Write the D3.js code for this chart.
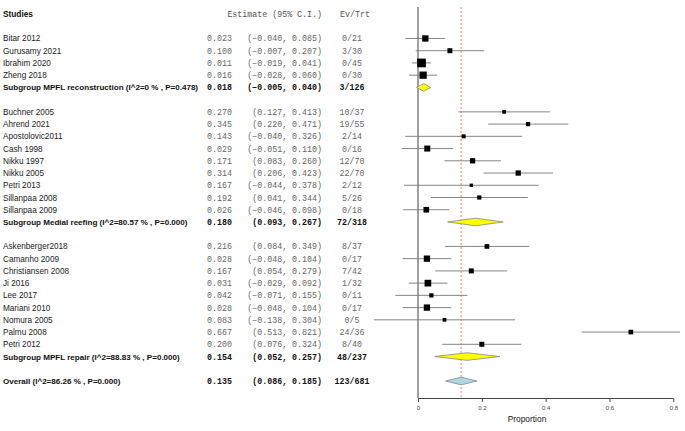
<!DOCTYPE html>
<html><head><meta charset="utf-8">
<script src="https://cdn.jsdelivr.net/npm/d3@7"></script>
<style>body{margin:0;background:#fff}</style>
</head><body><svg id="c" width="685" height="431"></svg>
<script>
// ---- data ----
const studies = ["Bitar 2012","Gurusamy 2021","Ibrahim 2020","Zheng 2018",
 "Buchner 2005","Ahrend 2021","Apostolovic2011","Cash 1998","Nikku 1997","Nikku 2005","Petri 2013","Sillanpaa 2008","Sillanpaa 2009",
 "Askenberger2018","Camanho 2009","Christiansen 2008","Ji 2016","Lee 2017","Mariani 2010","Nomura 2005","Palmu 2008","Petri 2012"];
const groupOf = [0,0,0,0, 1,1,1,1,1,1,1,1,1, 2,2,2,2,2,2,2,2,2];
const estimates = [0.023,0.100,0.011,0.016, 0.270,0.345,0.143,0.029,0.171,0.314,0.167,0.192,0.026, 0.216,0.028,0.167,0.031,0.042,0.028,0.083,0.667,0.200];
const lowers = [-0.040,-0.007,-0.019,-0.028, 0.127,0.220,-0.040,-0.051,0.083,0.206,-0.044,0.041,-0.046, 0.084,-0.048,0.054,-0.029,-0.071,-0.048,-0.138,0.513,0.076];
const uppers = [0.085,0.207,0.041,0.060, 0.413,0.471,0.326,0.110,0.260,0.423,0.378,0.344,0.098, 0.349,0.104,0.279,0.092,0.155,0.104,0.304,0.821,0.324];
const events = [0,3,0,0, 10,19,2,0,12,22,2,5,0, 8,0,7,1,0,0,0,24,8];
const totals = [21,30,45,30, 37,55,14,16,70,70,12,26,18, 37,17,42,32,11,17,5,36,40];
const weights = [40,25,76,53, 14,18,16,36,28,28,11,18,32, 22,40,25,45,18,40,14,22,25];

const subgroupNames = ["MPFL reconstruction","Medial reefing","MPFL repair"];
const subgroupI2 = ["0","80.57","88.83"];
const subgroupP = ["0.478","0.000","0.000"];
const subEst = [0.018,0.180,0.154];
const subLow = [-0.005,0.093,0.052];
const subUp = [0.040,0.267,0.257];
const subEv = [3,72,48];
const subTot = [126,318,237];

const overall = {label:"Overall (I^2=86.26 % , P=0.000)", est:0.135, low:0.086, up:0.185, ev:123, tot:681};
const xTicks = [0,0.2,0.4,0.6,0.8];

// ---- build rows ----
const rows = [];
let r = 2;
subgroupNames.forEach((g,gi)=>{
  studies.forEach((s,i)=>{ if(groupOf[i]===gi){ rows.push({type:"study",row:r++,label:s,est:estimates[i],low:lowers[i],up:uppers[i],ev:events[i],tot:totals[i],w:weights[i]}); } });
  rows.push({type:"sub",row:r++,label:`Subgroup ${g} (I^2=${subgroupI2[gi]} % , P=${subgroupP[gi]})`,est:subEst[gi],low:subLow[gi],up:subUp[gi],ev:subEv[gi],tot:subTot[gi]});
  r++;
});
rows.push({type:"overall",row:r,label:overall.label,est:overall.est,low:overall.low,up:overall.up,ev:overall.ev,tot:overall.tot});

const svg = d3.select("#c");
const y = d3.scaleLinear().domain([0,30]).range([14,381]);
const x = d3.scaleLinear().domain([0,0.8]).range([418,673.3]);
const size = d3.scaleSqrt().domain([0,76]).range([0,8.7]);
const sans = "Liberation Sans, Arial, sans-serif";
const mono = "Liberation Mono, Courier New, monospace";
const fmt = d3.format(".3f");

// header
svg.append("text").attr("x",3).attr("y",y(0)+3).attr("font-family",sans).attr("font-size",8.3).attr("font-weight","bold").attr("fill","#111").text("Studies");
svg.append("text").attr("x",322).attr("y",y(0)+3).attr("font-family",mono).attr("font-size",8.3).attr("text-anchor","end").attr("fill","#555").text("Estimate (95% C.I.)");
svg.append("text").attr("x",355).attr("y",y(0)+3).attr("font-family",mono).attr("font-size",8.3).attr("text-anchor","middle").attr("fill","#555").text("Ev/Trt");

const g = svg.append("g");
rows.forEach(d=>{
  const bold = d.type!=="study";
  const yy = y(d.row)+3;
  g.append("text").attr("x",3).attr("y",yy).attr("font-family",sans).attr("font-size",bold?8.05:8.2)
    .attr("font-weight",bold?"bold":"normal").attr("fill",bold?"#111":"#222").text(d.label);
  const col = bold?"#111":"#666";
  g.append("text").attr("x",207).attr("y",yy).attr("font-family",mono).attr("font-size",8.3).attr("font-weight",bold?"bold":"normal").attr("fill",col).text(fmt(d.est));
  g.append("text").attr("x",322).attr("y",yy).attr("font-family",mono).attr("font-size",8.3).attr("text-anchor","end").attr("font-weight",bold?"bold":"normal").attr("fill",col).text(`(${fmt(d.low)}, ${fmt(d.up)})`);
  g.append("text").attr("x",352).attr("y",yy).attr("font-family",mono).attr("font-size",8.3).attr("text-anchor","middle").attr("font-weight",bold?"bold":"normal").attr("fill",col).text(`${d.ev}/${d.tot}`);
});

// axis lines
svg.append("line").attr("x1",x(0)).attr("x2",x(0)).attr("y1",7).attr("y2",398).attr("stroke","#444").attr("stroke-width",1);
svg.append("line").attr("x1",x(overall.est)).attr("x2",x(overall.est)).attr("y1",7).attr("y2",398).attr("stroke","#e06060").attr("stroke-width",0.8).attr("stroke-dasharray","2,2");

// marks
rows.filter(d=>d.type==="study").forEach(d=>{
  const yy = y(d.row);
  svg.append("line").attr("x1",x(d.low)).attr("x2",x(d.up)).attr("y1",yy).attr("y2",yy).attr("stroke","#777").attr("stroke-width",0.9);
  const s = size(d.w);
  svg.append("rect").attr("x",x(d.est)-s/2).attr("y",yy-s/2).attr("width",s).attr("height",s).attr("fill","#000");
});
rows.filter(d=>d.type!=="study").forEach(d=>{
  const yy = y(d.row), h=3.8;
  const pts = [[x(d.low),yy],[x(d.est),yy-h],[x(d.up),yy],[x(d.est),yy+h]];
  svg.append("polygon").attr("points",pts.map(p=>p.join(",")).join(" "))
    .attr("fill",d.type==="sub"?"#ffff00":"#add8e6").attr("stroke","#888").attr("stroke-width",0.8);
});

// x axis
const ax = svg.append("g").attr("transform","translate(0,398)")
  .call(d3.axisBottom(x).tickValues(xTicks).tickSize(4).tickFormat(d=>d===0?"0":d3.format(".1f")(d)));
ax.select(".domain").attr("stroke","#444").attr("d",`M${x(0)},0.5H${x(0.8)}`);
ax.selectAll(".tick line").attr("stroke","#444");
ax.selectAll(".tick text").attr("font-family",sans).attr("font-size",6).attr("fill","#444").attr("dy","0.9em");
svg.append("text").attr("x",x((-0.138+0.821)/2)).attr("y",422).attr("text-anchor","middle").attr("font-family",sans).attr("font-size",8.4).attr("fill","#222").text("Proportion");
</script></body></html>
